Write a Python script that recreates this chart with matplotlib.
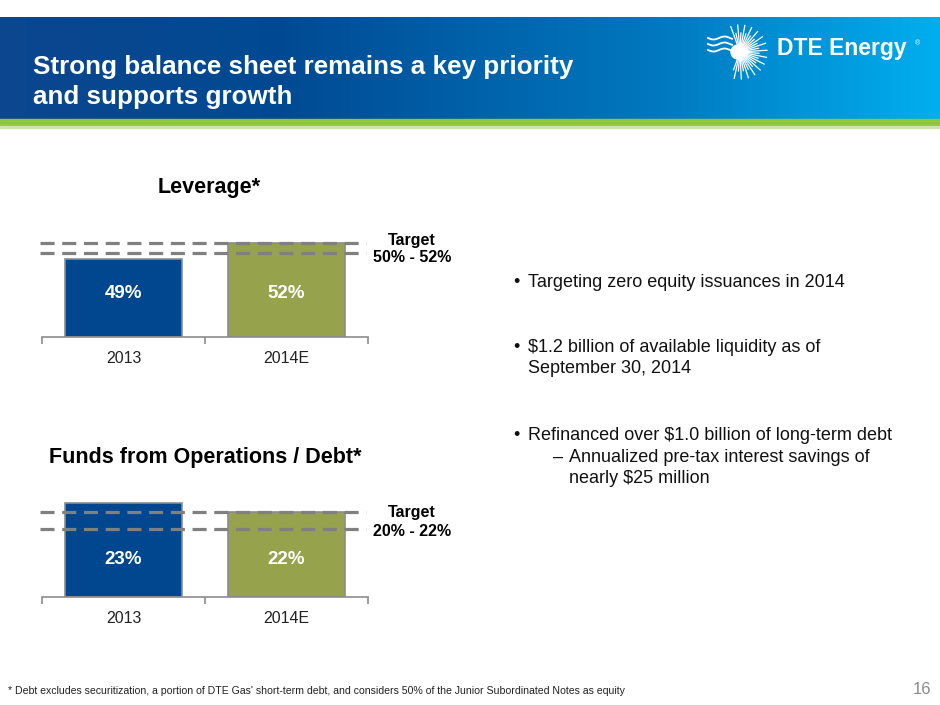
import numpy as np
import matplotlib
matplotlib.use('Agg')
import matplotlib.pyplot as plt
from matplotlib.colors import LinearSegmentedColormap
from matplotlib.transforms import blended_transform_factory

plt.rcParams['font.family'] = ['Liberation Sans', 'DejaVu Sans']

## data
years = ['2013', '2014E']
leverage = [49, 52]
leverage_target = [50, 52]
ffo_debt = [23, 22]
ffo_target = [20, 22]
bar_colors = ['#00478f', '#97a24c']

title_lines = ['Strong balance sheet remains a key priority', 'and supports growth']
bullets = [
    ('•', 'Targeting zero equity issuances in 2014', 287, 513, 528),
    ('•', '$1.2 billion of available liquidity as of', 352, 513, 528),
    ('', 'September 30, 2014', 373, 513, 528),
    ('•', 'Refinanced over $1.0 billion of long-term debt', 440, 513, 528),
    ('–', 'Annualized pre-tax interest savings of', 462, 553, 569),
    ('', 'nearly $25 million', 483, 553, 569),
]
footnote = ('* Debt excludes securitization, a portion of DTE Gas\' short-term debt, '
            'and considers 50% of the Junior Subordinated Notes as equity')

W, H = 940, 705
fig = plt.figure(figsize=(W / 100, H / 100), dpi=100)

## background axes in pixel coordinates
bg = fig.add_axes([0, 0, 1, 1])
bg.set_xlim(0, W)
bg.set_ylim(H, 0)
bg.axis('off')

cmap = LinearSegmentedColormap.from_list(
    'hdr', [(0, '#0c468f'), (0.3, '#004a93'), (0.7, '#0078bf'), (1.0, '#00aeef')])
grad = np.linspace(0, 1, 400).reshape(1, -1)
bg.imshow(grad, cmap=cmap, aspect='auto', extent=(0, W, 119, 17), zorder=1)
bg.fill_between([0, W], 119, 125.5, color='#8dc63f', zorder=1)
bg.fill_between([0, W], 125.5, 127.5, color='#cfe3b0', zorder=1)

bg.text(33, 67, title_lines[0], color='white',
        fontsize=18.7, fontweight='bold', va='center', ha='left', zorder=3)
bg.text(33, 97, title_lines[1], color='white',
        fontsize=18.7, fontweight='bold', va='center', ha='left', zorder=3)

## logo: sunburst + name
cx, cy = 740, 52
for i, a in enumerate(np.linspace(-110, 110, 30)):
    r = 27 if i % 2 == 0 else 19
    t = np.deg2rad(a)
    bg.plot([cx + 4 * np.cos(t), cx + r * np.cos(t)],
            [cy + 4 * np.sin(t), cy + r * np.sin(t)], color='white', lw=0.9, zorder=3)
bg.add_patch(plt.Circle((cx - 2, cy), 7, color='white', zorder=3))
for dy in [-14, -8, -2]:
    xs = np.linspace(708, 732, 20)
    bg.plot(xs, cy + dy + 1.5 * np.sin((xs - 708) / 3.5), color='white', lw=1.3, zorder=3)
bg.text(777, 48, 'DTE Energy', color='white', fontsize=16.5, fontweight='bold',
        va='center', ha='left', zorder=3)
bg.text(915, 44, '®', color='white', fontsize=5, va='center', zorder=3)

## bullets
for mark, txt, y, xm, xt in bullets:
    if mark:
        bg.text(xm, y, mark, fontsize=13, color='#111111', va='baseline', ha='left')
    bg.text(xt, y, txt, fontsize=13, color='#111111', va='baseline', ha='left')

bg.text(8, 691, footnote, fontsize=7.6, color='#222222', va='center', ha='left')
bg.text(931, 689, '16', fontsize=12, color='#8a8a8a', va='center', ha='right')


def px_axes(left, right, top, bottom):
    return fig.add_axes([left / W, 1 - bottom / H, (right - left) / W, (bottom - top) / H])


def bar_panel(ax, values, target, ylim, label_frac):
    x = np.arange(len(values))
    ax.bar(x, [v - ylim[0] for v in values], bottom=ylim[0], width=0.72,
           color=bar_colors, edgecolor='#8c8c8c', linewidth=1.2, zorder=2)
    tr = blended_transform_factory(ax.transData, ax.transAxes)
    for xi, v in zip(x, values):
        ax.text(xi, label_frac, f'{v}%', color='white', transform=tr,
                fontsize=13.5, fontweight='bold', ha='center', va='center', zorder=3)
    for t in target:
        ax.axhline(t, xmin=-0.006, xmax=0.995, color='#808080', lw=2.3,
                   ls=(0, (4.4, 2.4)), zorder=4, clip_on=False)
    ax.set_xlim(-0.5, 1.5)
    ax.set_ylim(*ylim)
    for s in ['top', 'right', 'left']:
        ax.spines[s].set_visible(False)
    ax.spines['bottom'].set_color('#8c8c8c')
    ax.spines['bottom'].set_linewidth(1.2)
    ax.set_yticks([])
    ax.set_xticks(x)
    ax.set_xticklabels(years, fontsize=11.5, color='#222222')
    ax.tick_params(axis='x', which='major', length=0, pad=10)
    ax.set_xticks([-0.5, 0.5, 1.5], minor=True)
    ax.tick_params(axis='x', which='minor', length=5, color='#8c8c8c', width=1.2)
    ax.patch.set_alpha(0)


## Leverage chart
ax1 = px_axes(42, 368, 232, 337)
bar_panel(ax1, leverage, leverage_target, (34.4, 54.0), 0.41)
bg.text(209, 187, 'Leverage*', fontsize=15.5, fontweight='bold', ha='center', va='center')
bg.text(412, 241, 'Target', fontsize=11.5, fontweight='bold', ha='center', va='center')
bg.text(412, 258, f'{leverage_target[0]}% - {leverage_target[1]}%', fontsize=11.5,
        fontweight='bold', ha='center', va='center')

## FFO / Debt chart
ax2 = px_axes(42, 368, 486, 597)
bar_panel(ax2, ffo_debt, ffo_target, (12.0, 25.0), 0.34)
bg.text(205, 457, 'Funds from Operations / Debt*', fontsize=15.5, fontweight='bold',
        ha='center', va='center')
bg.text(412, 513, 'Target', fontsize=11.5, fontweight='bold', ha='center', va='center')
bg.text(412, 532, f'{ffo_target[0]}% - {ffo_target[1]}%', fontsize=11.5,
        fontweight='bold', ha='center', va='center')

fig.savefig('out.png', dpi=100)
